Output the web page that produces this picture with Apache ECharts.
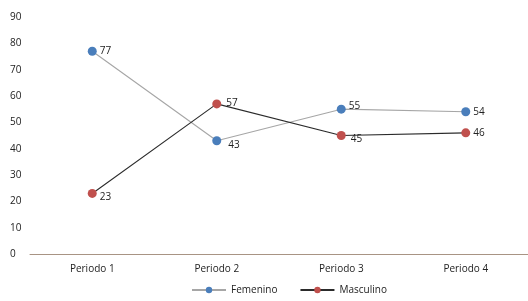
<!DOCTYPE html>
<html>
<head>
<meta charset="utf-8">
<script src="https://cdn.jsdelivr.net/npm/echarts@6/dist/echarts.min.js"></script>
<style>
  html, body { margin: 0; padding: 0; background: #fff; }
  #chart { width: 528px; height: 301px; }
</style>
</head>
<body>
<div id="chart"></div>
<script>
const categories = ['Periodo 1', 'Periodo 2', 'Periodo 3', 'Periodo 4'];
const femenino = [77, 43, 55, 54];
const masculino = [23, 57, 45, 46];
const yTicks = { min: 0, max: 90, interval: 10 };

// little nudges so the labels sit like in the original
const femOffsets = [[0, 0], [4, 4], [0, -3], [0, 0]];
const mascOffsets = [[0, 4], [2, -1], [2, 4], [0, 0]];

const chart = echarts.init(document.getElementById('chart'));

function withLabels(values, offsets) {
  return values.map((v, i) => ({
    value: v,
    label: { offset: offsets[i] }
  }));
}

chart.setOption({
  animation: false,
  textStyle: { fontFamily: 'Open Sans', fontSize: 10, color: '#222' },
  grid: { left: 30, right: 0, top: 17, bottom: 47 },
  legend: {
    bottom: 1,
    left: 186,
    itemWidth: 34,
    itemHeight: 8,
    itemGap: 22,
    textStyle: { fontSize: 10, color: '#222' },
    data: ['Femenino', 'Masculino']
  },
  xAxis: {
    type: 'category',
    data: categories,
    axisTick: { show: false },
    axisLine: { lineStyle: { color: '#a89484', width: 1 } },
    axisLabel: { fontSize: 10, color: '#222', margin: 10 }
  },
  yAxis: {
    type: 'value',
    min: yTicks.min,
    max: yTicks.max,
    interval: yTicks.interval,
    splitLine: { show: false },
    axisLine: { show: false },
    axisTick: { show: false },
    axisLabel: { fontSize: 10, color: '#222', margin: 18, align: 'left', padding: [0, 0, 0, -2] }
  },
  series: [
    {
      name: 'Femenino',
      type: 'line',
      data: withLabels(femenino, femOffsets),
      symbol: 'circle',
      symbolSize: 9,
      itemStyle: { color: '#4a7ebb' },
      lineStyle: { color: '#a6a6a6', width: 1.1 },
      label: { show: true, position: 'right', distance: 3, fontSize: 10, color: '#222' }
    },
    {
      name: 'Masculino',
      type: 'line',
      data: withLabels(masculino, mascOffsets),
      symbol: 'circle',
      symbolSize: 9,
      itemStyle: { color: '#c0504d' },
      lineStyle: { color: '#2b2b2b', width: 1.1 },
      label: { show: true, position: 'right', distance: 3, fontSize: 10, color: '#222' }
    }
  ]
});
</script>
</body>
</html>
